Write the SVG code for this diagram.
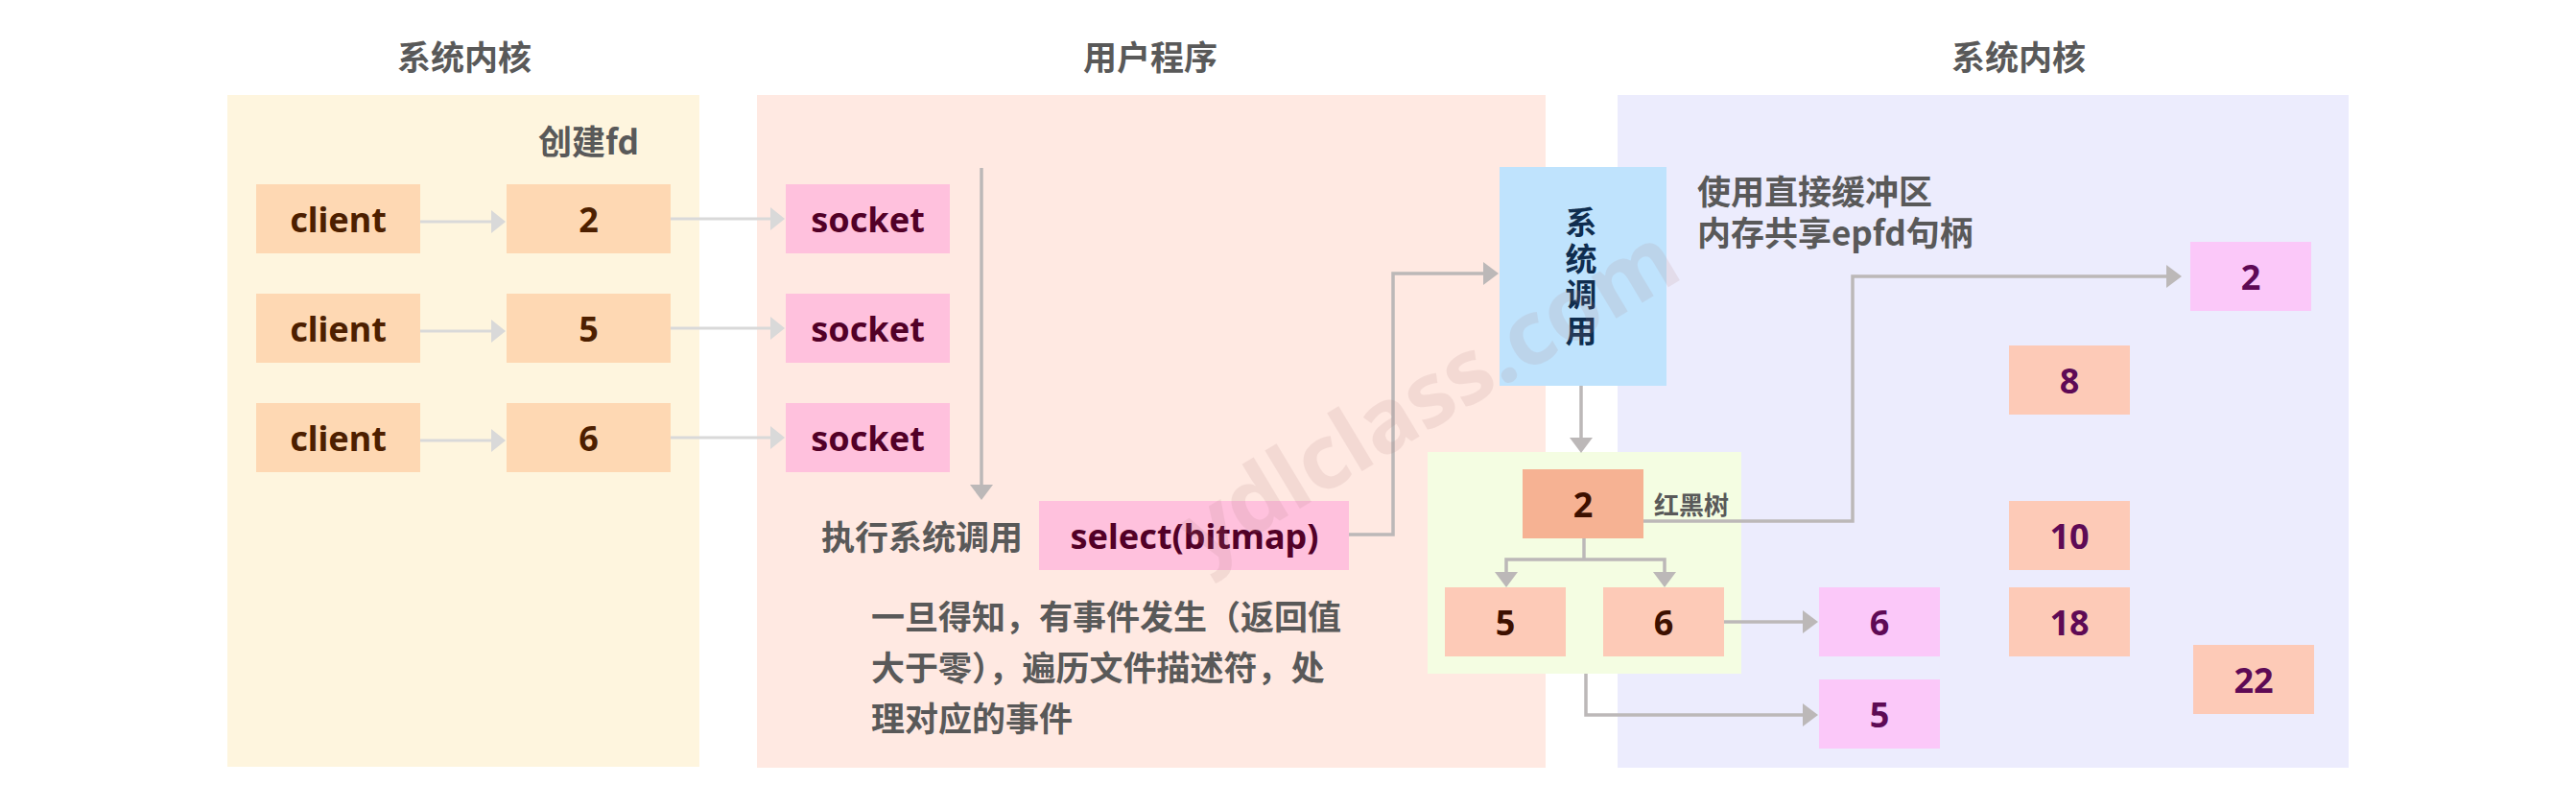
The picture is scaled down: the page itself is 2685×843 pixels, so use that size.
<svg xmlns="http://www.w3.org/2000/svg" width="2685" height="843" viewBox="0 0 2685 843">
<style>
.cjk{font-family:"Noto Sans CJK SC","Noto Sans",sans-serif;font-weight:700;font-size:35px;fill:#595959;dominant-baseline:central}
.lab{font-family:"Noto Sans","Noto Sans CJK SC",sans-serif;font-weight:700;font-size:36px;dominant-baseline:central;text-anchor:middle}
.peach{fill:#fed8b3}
.pink{fill:#ffc1dd}
.salmon{fill:#fdcab7}
.violet{fill:#fbc8f9}
.brown{fill:#4d1f00}
.maroon{fill:#520027}
.purple{fill:#5e0a55}
.dkbrown{fill:#3d1000}
.lt{fill:none;stroke:#d9d9d9;stroke-width:3}
.dk{fill:none;stroke:#bcb8b8;stroke-width:3.5}
</style>
<defs>
<marker id="ah-lt" markerUnits="userSpaceOnUse" markerWidth="15" markerHeight="24" refX="12" refY="12" orient="auto"><path d="M0,0 L15,12 L0,24 z" fill="#d9d9d9"/></marker>
<marker id="ah-dk" markerUnits="userSpaceOnUse" markerWidth="16" markerHeight="24" refX="13" refY="12" orient="auto"><path d="M0,0 L16,12 L0,24 z" fill="#bcb8b8"/></marker>
</defs>
<rect width="2685" height="843" fill="#ffffff"/>
<g id="panels">
<rect x="237" y="99" width="492" height="700" fill="#fef5de"/>
<rect x="789" y="99" width="822" height="701" fill="#ffe9e2"/>
<rect x="1686" y="99" width="762" height="701" fill="#ececfd"/>
<rect x="1488" y="471" width="327" height="231" fill="#f4fde2"/>
</g>
<g id="titles">
<text class="cjk" x="484" y="57" text-anchor="middle">系统内核</text>
<text class="cjk" x="1199" y="57" text-anchor="middle">用户程序</text>
<text class="cjk" x="2104" y="57" text-anchor="middle">系统内核</text>
<text class="cjk" x="561" y="145">创建fd</text>
<text class="cjk" x="856" y="557">执行系统调用</text>
<text class="cjk" x="908" y="640">一旦得知，有事件发生（返回值</text>
<text class="cjk" x="908" y="693">大于零），遍历文件描述符，处</text>
<text class="cjk" x="908" y="746">理对应的事件</text>
<text class="cjk" x="1769" y="197">使用直接缓冲区</text>
<text class="cjk" x="1769" y="240">内存共享epfd句柄</text>
<text class="cjk" x="1724" y="524" style="font-size:26px">红黑树</text>
</g>
<g id="connectors">
<path class="lt" d="M438,231 H524" marker-end="url(#ah-lt)"/>
<path class="lt" d="M438,345 H524" marker-end="url(#ah-lt)"/>
<path class="lt" d="M438,459 H524" marker-end="url(#ah-lt)"/>
<path class="lt" d="M699,228 H815" marker-end="url(#ah-lt)"/>
<path class="lt" d="M699,342 H815" marker-end="url(#ah-lt)"/>
<path class="lt" d="M699,456 H815" marker-end="url(#ah-lt)"/>
<path class="dk" d="M1023,175 V518" marker-end="url(#ah-dk)"/>
<path class="dk" d="M1406,557 H1452 V285 H1559" marker-end="url(#ah-dk)"/>
<path class="dk" d="M1648,402 V469" marker-end="url(#ah-dk)"/>
<path class="dk" d="M1713,543 H1931 V288 H2271" marker-end="url(#ah-dk)"/>
<path class="dk" d="M1651,561 V583"/>
<path class="dk" d="M1651,583 H1570 V609" marker-end="url(#ah-dk)"/>
<path class="dk" d="M1651,583 H1735 V609" marker-end="url(#ah-dk)"/>
<path class="dk" d="M1797,648 H1892" marker-end="url(#ah-dk)"/>
<path class="dk" d="M1653,702 V745 H1892" marker-end="url(#ah-dk)"/>
</g>
<g id="client1"><rect class="peach" x="267" y="192" width="171" height="72"/><text class="lab brown" x="352.5" y="228">client</text></g>
<g id="client2"><rect class="peach" x="267" y="306" width="171" height="72"/><text class="lab brown" x="352.5" y="342">client</text></g>
<g id="client3"><rect class="peach" x="267" y="420" width="171" height="72"/><text class="lab brown" x="352.5" y="456">client</text></g>
<g id="fd2"><rect class="peach" x="528" y="192" width="171" height="72"/><text class="lab brown" x="613.5" y="228">2</text></g>
<g id="fd5"><rect class="peach" x="528" y="306" width="171" height="72"/><text class="lab brown" x="613.5" y="342">5</text></g>
<g id="fd6"><rect class="peach" x="528" y="420" width="171" height="72"/><text class="lab brown" x="613.5" y="456">6</text></g>
<g id="socket1"><rect class="pink" x="819" y="192" width="171" height="72"/><text class="lab maroon" x="904.5" y="228">socket</text></g>
<g id="socket2"><rect class="pink" x="819" y="306" width="171" height="72"/><text class="lab maroon" x="904.5" y="342">socket</text></g>
<g id="socket3"><rect class="pink" x="819" y="420" width="171" height="72"/><text class="lab maroon" x="904.5" y="456">socket</text></g>
<g id="select"><rect class="pink" x="1083" y="522" width="323" height="72"/><text class="lab maroon" x="1245" y="558">select(bitmap)</text></g>
<g id="syscall"><rect x="1563" y="174" width="174" height="228" fill="#bfe3fd"/>
<text class="cjk" text-anchor="middle" style="fill:#0f2d4f;font-size:33px"><tspan x="1648" y="230">系</tspan><tspan x="1648" y="267.5">统</tspan><tspan x="1648" y="305">调</tspan><tspan x="1648" y="342.5">用</tspan></text></g>
<g id="rb2"><rect x="1587" y="489" width="126" height="72" fill="#f6b293"/><text class="lab dkbrown" x="1650" y="525">2</text></g>
<g id="rb5"><rect class="salmon" x="1506" y="612" width="126" height="72"/><text class="lab dkbrown" x="1569" y="648">5</text></g>
<g id="rb6"><rect class="salmon" x="1671" y="612" width="126" height="72"/><text class="lab dkbrown" x="1734" y="648">6</text></g>
<g id="ready2"><rect class="violet" x="2283" y="252" width="126" height="72"/><text class="lab purple" x="2346" y="288">2</text></g>
<g id="ready6"><rect class="violet" x="1896" y="612" width="126" height="72"/><text class="lab purple" x="1959" y="648">6</text></g>
<g id="ready5"><rect class="violet" x="1896" y="708" width="126" height="72"/><text class="lab purple" x="1959" y="744">5</text></g>
<g id="fd8"><rect class="salmon" x="2094" y="360" width="126" height="72"/><text class="lab purple" x="2157" y="396">8</text></g>
<g id="fd10"><rect class="salmon" x="2094" y="522" width="126" height="72"/><text class="lab purple" x="2157" y="558">10</text></g>
<g id="fd18"><rect class="salmon" x="2094" y="612" width="126" height="72"/><text class="lab purple" x="2157" y="648">18</text></g>
<g id="fd22"><rect class="salmon" x="2286" y="672" width="126" height="72"/><text class="lab purple" x="2349" y="708">22</text></g>
<text x="0" y="0" transform="translate(1253,591) rotate(-31)" font-family="Noto Sans, sans-serif" font-weight="700" font-size="93" fill="#b08080" opacity="0.14">ydlclass.com</text>
</svg>
